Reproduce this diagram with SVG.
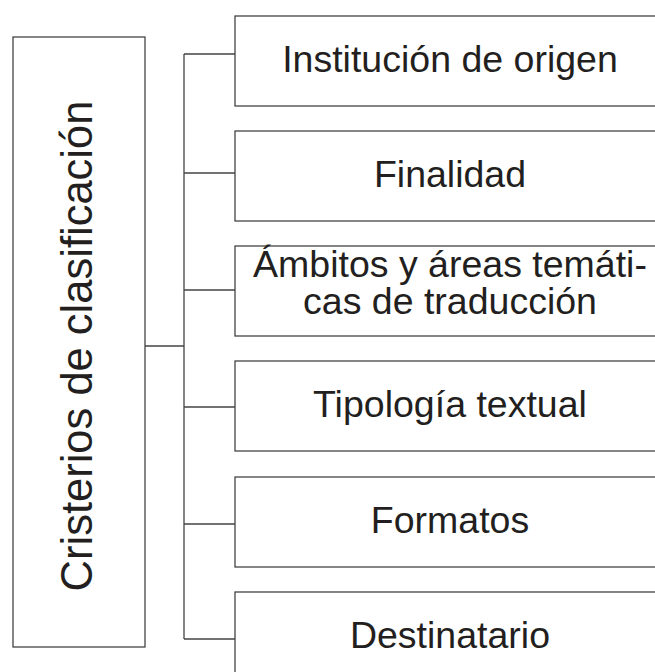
<svg xmlns="http://www.w3.org/2000/svg" width="655" height="672" viewBox="0 0 655 672">
<style>
.box{fill:#fff;stroke:#444;stroke-width:1.3}
.conn{fill:none;stroke:#444;stroke-width:1.3}
.t{font-family:"Liberation Sans",Arial,sans-serif;font-size:37.5px;fill:#231f20;text-anchor:middle}
.v{font-family:"Liberation Sans",Arial,sans-serif;font-size:43.5px;fill:#231f20;text-anchor:middle}
</style>
<rect width="655" height="672" fill="#fff"/>
<g id="connectors">
<path class="conn" d="M145,346H184M184,54V639M184,54H235M184,173H235M184,290H235M184,407H235M184,524H235M184,639H235"/>
</g>
<g id="root">
<rect class="box" x="13" y="37" width="132" height="610"/>
<text class="v" transform="translate(92,346) rotate(-90)" x="0" y="0">Cristerios de clasificación</text>
</g>
<g id="n1">
<rect class="box" x="235" y="16" width="430" height="90"/>
<text class="t" x="450" y="72">Institución de origen</text>
</g>
<g id="n2">
<rect class="box" x="235" y="131" width="430" height="90"/>
<text class="t" x="450" y="187">Finalidad</text>
</g>
<g id="n3">
<rect class="box" x="235" y="246" width="430" height="90"/>
<text class="t" x="450" y="277">Ámbitos y áreas temáti-</text>
<text class="t" x="450" y="314">cas de traducción</text>
</g>
<g id="n4">
<rect class="box" x="235" y="361" width="430" height="90"/>
<text class="t" x="450" y="417">Tipología textual</text>
</g>
<g id="n5">
<rect class="box" x="235" y="477" width="430" height="90"/>
<text class="t" x="450" y="533">Formatos</text>
</g>
<g id="n6">
<rect class="box" x="235" y="592" width="430" height="90"/>
<text class="t" x="450" y="648">Destinatario</text>
</g>
</svg>
